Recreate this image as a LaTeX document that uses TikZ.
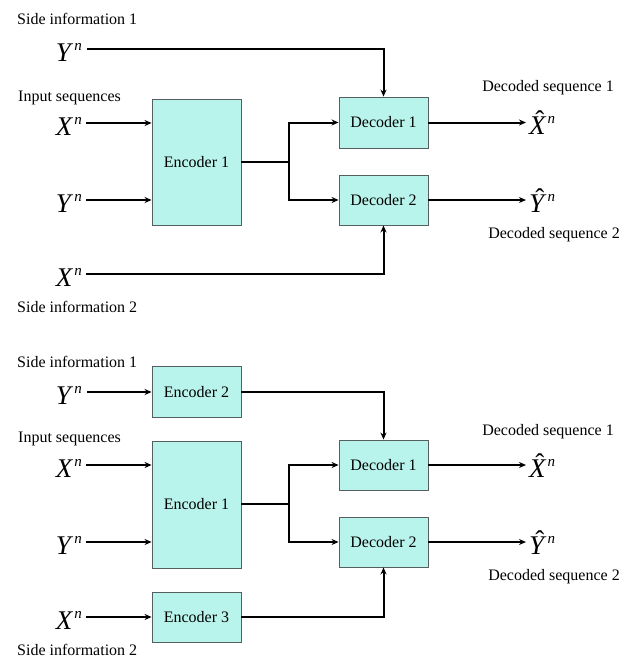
\documentclass[tikz,border=0pt]{standalone}
\usepackage{fontspec}
\setmainfont{Liberation Serif}
\usetikzlibrary{arrows.meta}
\definecolor{boxfill}{RGB}{185,244,236}
\definecolor{boxline}{RGB}{85,95,95}
\newcommand\seqsym[1]{{\fontsize{27}{30}\selectfont#1\kern1pt\raisebox{11pt}{\fontsize{15}{17}\selectfont\textit{n}}}}
\newcommand\hatsym[1]{\ooalign{\textit{#1}\cr\hidewidth\kern4pt\raisebox{5pt}{\char"02C6}\hidewidth\cr}}
\tikzset{
  blk/.style={draw=boxline, line width=0.9pt, fill=boxfill, minimum width=89pt, inner sep=0pt, font=\fontsize{16}{18}\selectfont},
  lbl/.style={font=\fontsize{16}{18}\selectfont, inner sep=0pt},
  sym/.style={inner sep=0pt, anchor=base east},
  symr/.style={inner sep=0pt, anchor=base west},
  wire/.style={line width=2pt},
  arr/.style={line width=2pt, -{Stealth[length=7pt,width=6pt]}}
}
\begin{document}
\begin{tikzpicture}[x=1pt,y=-1pt]
\useasboundingbox (0,0) rectangle (633,657);
% ---------------- top diagram ----------------
\node[lbl, anchor=west] (si1a) at (17,19) {Side information 1};
\node[lbl, anchor=west] (insa) at (18,98) {Input sequences};
\node[lbl, anchor=west] (si2a) at (17,307) {Side information 2};
\node[lbl] (ds1a) at (548,88) {Decoded sequence 1};
\node[lbl] (ds2a) at (554,235) {Decoded sequence 2};

\node[blk, minimum height=126pt] (enc1a) at (196.5,162) {Encoder 1};
\node[blk, minimum height=51pt] (dec1a) at (383.5,122.5) {Decoder 1};
\node[blk, minimum height=50pt] (dec2a) at (383.5,200) {Decoder 2};

\coordinate (yAs) at (87,49);
\coordinate (xAs) at (86,123);
\coordinate (yBs) at (86,200);
\coordinate (xBs) at (86,274);
\node[sym] (yA) at (82,61) {\seqsym{\textit{Y}}};
\node[sym] (xA) at (82,135) {\seqsym{\textit{X}}};
\node[sym] (yB) at (82,212) {\seqsym{\textit{Y}}};
\node[sym] (xB) at (82,286) {\seqsym{\textit{X}}};

\draw[arr] (yAs) -| (dec1a.north);
\draw[arr] (xAs) -- (enc1a.west |- xAs);
\draw[arr] (yBs) -- (enc1a.west |- yBs);
\draw[arr] (xBs) -| (dec2a.south);

\coordinate (spa) at (289,162);
\draw[wire] (enc1a.east |- spa) -- (spa);
\draw[arr] (spa) |- (dec1a.west);
\draw[arr] (spa) |- (dec2a.west);

\coordinate (o1a) at (526,122.5);
\coordinate (o2a) at (526,200);
\draw[arr] (dec1a.east) -- (o1a);
\draw[arr] (dec2a.east) -- (o2a);
\node[symr] (xha) at (529,134) {\seqsym{\hatsym{X}}};
\node[symr] (yha) at (529,212) {\seqsym{\hatsym{Y}}};

% ---------------- bottom diagram ----------------
\node[lbl, anchor=west] (si1b) at (17,362) {Side information 1};
\node[lbl, anchor=west] (insb) at (18,439) {Input sequences};
\node[lbl, anchor=west] (si2b) at (17,650) {Side information 2};
\node[lbl] (ds1b) at (548,432) {Decoded sequence 1};
\node[lbl] (ds2b) at (554,577) {Decoded sequence 2};

\node[blk, minimum height=51pt] (enc2b) at (196.5,392) {Encoder 2};
\node[blk, minimum height=127pt] (enc1b) at (196.5,504.5) {Encoder 1};
\node[blk, minimum height=50pt] (enc3b) at (196.5,617) {Encoder 3};
\node[blk, minimum height=50pt] (dec1b) at (383.5,465) {Decoder 1};
\node[blk, minimum height=50pt] (dec2b) at (383.5,542) {Decoder 2};

\coordinate (yCs) at (87,392);
\coordinate (xCs) at (86,465);
\coordinate (yDs) at (86,542);
\coordinate (xDs) at (86,617);
\node[sym] (yC) at (82,404) {\seqsym{\textit{Y}}};
\node[sym] (xC) at (82,477) {\seqsym{\textit{X}}};
\node[sym] (yD) at (82,554) {\seqsym{\textit{Y}}};
\node[sym] (xD) at (82,629) {\seqsym{\textit{X}}};

\draw[arr] (yCs) -- (enc2b.west);
\draw[arr] (xCs) -- (enc1b.west |- xCs);
\draw[arr] (yDs) -- (enc1b.west |- yDs);
\draw[arr] (xDs) -- (enc3b.west);
\draw[arr] (enc2b.east) -| (dec1b.north);
\draw[arr] (enc3b.east) -| (dec2b.south);

\coordinate (spb) at (289,504);
\draw[wire] (enc1b.east |- spb) -- (spb);
\draw[arr] (spb) |- (dec1b.west);
\draw[arr] (spb) |- (dec2b.west);

\coordinate (o1b) at (526,465);
\coordinate (o2b) at (526,542);
\draw[arr] (dec1b.east) -- (o1b);
\draw[arr] (dec2b.east) -- (o2b);
\node[symr] (xhb) at (529,477) {\seqsym{\hatsym{X}}};
\node[symr] (yhb) at (529,554) {\seqsym{\hatsym{Y}}};
\end{tikzpicture}
\end{document}
